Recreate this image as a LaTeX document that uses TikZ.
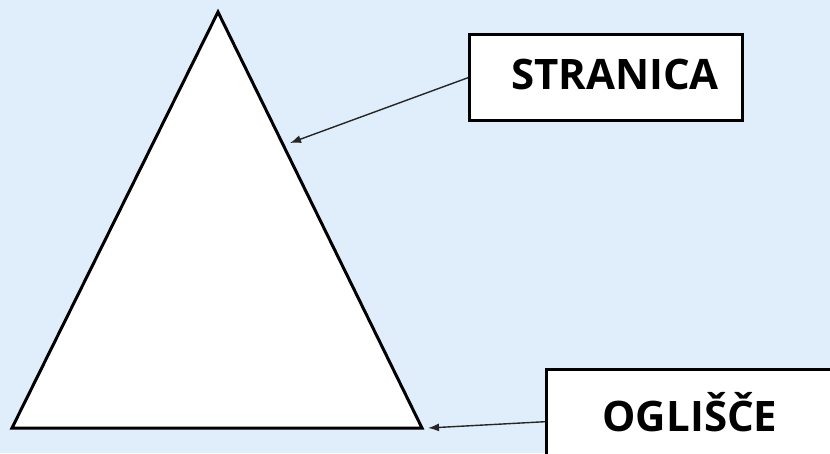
\documentclass[tikz,border=0pt]{standalone}
\usepackage{fontspec}
\setmainfont{Open Sans}
\usetikzlibrary{arrows.meta}
\definecolor{bgblue}{RGB}{224,237,250}
\tikzset{
  labelbox/.style={draw=black, line width=3.4pt, fill=white, inner sep=0pt},
  labeltext/.style={font=\bfseries\fontsize{42}{48}\selectfont, inner sep=0pt, anchor=center},
  pointer/.style={draw=black!85, line width=1.4pt, -{Latex[length=11pt,width=8pt]}},
}
\begin{document}
\begin{tikzpicture}[x=1pt,y=-1pt]
\fill[bgblue] (0,0) rectangle (830,453);
\useasboundingbox (0,0) rectangle (830,453);
\coordinate (apex) at (218,12);
\coordinate (bl) at (12,428);
\coordinate (br) at (422,428);
\filldraw[fill=white, draw=black, line width=3pt, line join=miter] (apex) -- (bl) -- (br) -- cycle;
% STRANICA box
\node[labelbox, minimum width=273pt, minimum height=86pt, anchor=north west] (s) at (468,33) {};
\node[labeltext] (st) at (615,74) {STRANICA};
% OGLISCE box
\node[labelbox, minimum width=300pt, minimum height=100pt, anchor=north west] (o) at (545,368) {};
\node[labeltext] (ot) at (690,412) {OGLIŠČE};
\coordinate (sa) at (290,143);
\coordinate (oa) at (428,428);
\draw[pointer] (s.west) -- (sa);
\draw[pointer] ([yshift=-2pt]o.west) -- (oa);
\end{tikzpicture}
\end{document}
